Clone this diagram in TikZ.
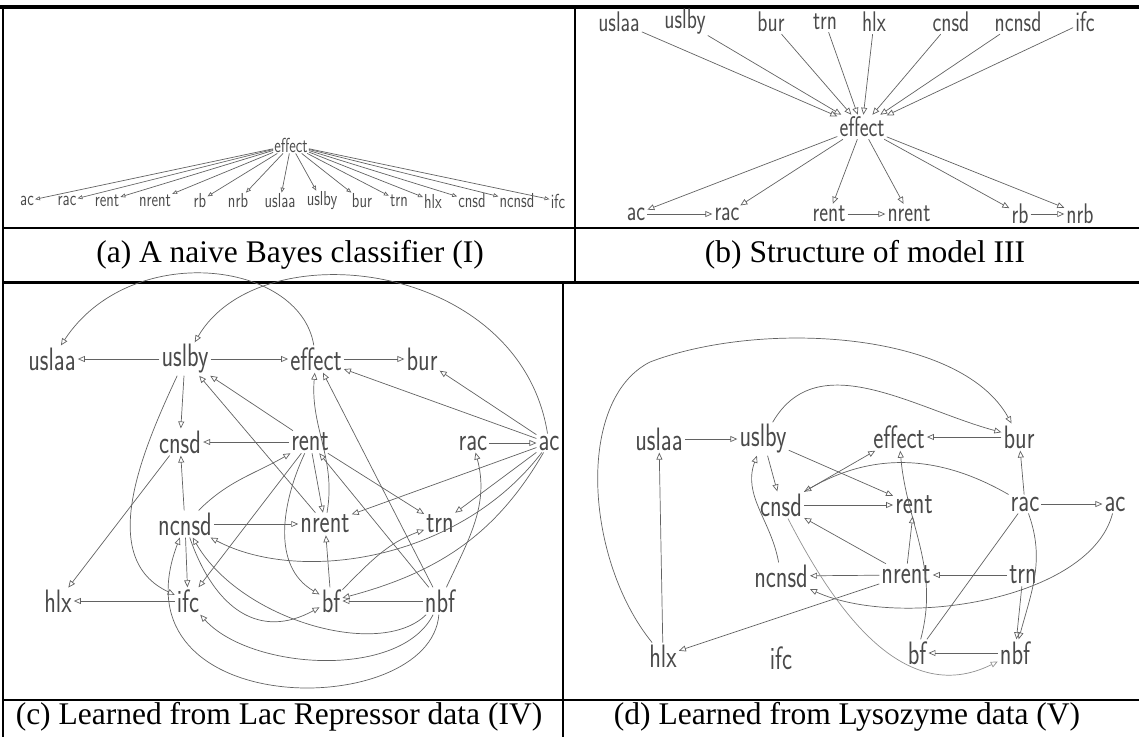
\documentclass[tikz,border=0pt]{standalone}
\usepackage{fontspec}
\setmainfont{Liberation Serif}
\usetikzlibrary{arrows.meta, positioning}

\definecolor{ink}{HTML}{4A4A4A}
\definecolor{pencil}{HTML}{626262}

% pencil lettering is tall and narrow
\newcommand{\hw}[1]{\scalebox{1}[1.35]{#1}}

\tikzset{
  hand/.style={font=\sffamily\fontsize{24}{24}\selectfont, text=ink, inner sep=2pt},
  handa/.style={hand, font=\sffamily\fontsize{15}{15}\selectfont, inner sep=1pt},
  handb/.style={hand, font=\sffamily\fontsize{21}{21}\selectfont},
  pen/.style={draw=pencil, line width=0.7pt},
  capt/.style={font=\fontsize{31.5}{33}\selectfont},
  boxline/.style={line width=1.5pt},
}

\begin{document}
\begin{tikzpicture}[x=1pt, y=-1pt, >={Triangle[open, length=7pt, width=6pt]},
    every edge/.style={pen}]
\useasboundingbox (0,0) rectangle (1139,737);

% table rules
\draw[line width=3.5pt] (0,7) -- (1139,7);
\draw[boxline] (3,7) -- (3,737);
\draw[boxline] (575,7) -- (575,282);
\draw[boxline] (563,282) -- (563,737);
\draw[boxline] (3,228) -- (1139,228);
\draw[line width=3pt] (3,282) -- (1139,282);
\draw[boxline] (3,700) -- (1139,700);

% captions
\node[capt] (capa) at (290,255) {(a) A naive Bayes classifier (I)};
\node[capt] (capb) at (865,255) {(b) Structure of model III};
\node[capt] (capc) at (279,717) {(c) Learned from Lac Repressor data (IV)};
\node[capt] (capd) at (847,717) {(d) Learned from Lysozyme data (V)};

% (a) naive Bayes
\begin{scope}[>={Triangle[open, length=5pt, width=4pt]}]
\node[handa] (a-effect) at (291,145) {\hw{effect}};
\node[handa] (a-ac) at (27,201) {\hw{ac}};
\node[handa] (a-rac) at (67,201) {\hw{rac}};
\node[handa] (a-rent) at (107,201) {\hw{rent}};
\node[handa] (a-nrent) at (155,201) {\hw{nrent}};
\node[handa] (a-rb) at (200,201) {\hw{rb}};
\node[handa] (a-nrb) at (238,201) {\hw{nrb}};
\node[handa] (a-uslaa) at (280,201) {\hw{uslaa}};
\node[handa] (a-uslby) at (322,201) {\hw{uslby}};
\node[handa] (a-bur) at (362,201) {\hw{bur}};
\node[handa] (a-trn) at (399,201) {\hw{trn}};
\node[handa] (a-hlx) at (433,201) {\hw{hlx}};
\node[handa] (a-cnsd) at (472,201) {\hw{cnsd}};
\node[handa] (a-ncnsd) at (517,201) {\hw{ncnsd}};
\node[handa] (a-ifc) at (558,201) {\hw{ifc}};

\draw
(a-effect) edge[->] (a-ac)
(a-effect) edge[->] (a-rac)
(a-effect) edge[->] (a-rent)
(a-effect) edge[->] (a-nrent)
(a-effect) edge[->] (a-rb)
(a-effect) edge[->] (a-nrb)
(a-effect) edge[->] (a-uslaa)
(a-effect) edge[->] (a-uslby)
(a-effect) edge[->] (a-bur)
(a-effect) edge[->] (a-trn)
(a-effect) edge[->] (a-hlx)
(a-effect) edge[->] (a-cnsd)
(a-effect) edge[->] (a-ncnsd)
(a-effect) edge[->] (a-ifc);
\end{scope}

% (b) model III
\node[handb] (b-uslaa) at (619,22) {\hw{uslaa}};
\node[handb] (b-uslby) at (685,22) {\hw{uslby}};
\node[handb] (b-bur) at (771,22) {\hw{bur}};
\node[handb] (b-trn) at (825,22) {\hw{trn}};
\node[handb] (b-hlx) at (874,22) {\hw{hlx}};
\node[handb] (b-cnsd) at (951,22) {\hw{cnsd}};
\node[handb] (b-ncnsd) at (1018,22) {\hw{ncnsd}};
\node[handb] (b-ifc) at (1085,22) {\hw{ifc}};
\node[handb] (b-effect) at (862,127) {\hw{effect}};
\node[handb] (b-ac) at (636,214) {\hw{ac}};
\node[handb] (b-rac) at (727,214) {\hw{rac}};
\node[handb] (b-rent) at (829,214) {\hw{rent}};
\node[handb] (b-nrent) at (909,214) {\hw{nrent}};
\node[handb] (b-rb) at (1020,214) {\hw{rb}};
\node[handb] (b-nrb) at (1080,214) {\hw{nrb}};

\draw
(b-uslaa) edge[->] (b-effect)
(b-uslby) edge[->] (b-effect)
(b-bur) edge[->] (b-effect)
(b-trn) edge[->] (b-effect)
(b-hlx) edge[->] (b-effect)
(b-cnsd) edge[->] (b-effect)
(b-ncnsd) edge[->] (b-effect)
(b-ifc) edge[->] (b-effect)
(b-effect) edge[->] (b-ac)
(b-effect) edge[->] (b-rac)
(b-effect) edge[->] (b-rent)
(b-effect) edge[->] (b-nrent)
(b-effect) edge[->] (b-rb)
(b-effect) edge[->] (b-nrb)
(b-ac) edge[->] (b-rac)
(b-rent) edge[->] (b-nrent)
(b-rb) edge[->] (b-nrb);

% (c) lac repressor
\node[hand] (c-uslaa) at (52,359) {\hw{uslaa}};
\node[hand] (c-uslby) at (185,359) {\hw{uslby}};
\node[hand] (c-effect) at (316,359) {\hw{effect}};
\node[hand] (c-bur) at (422,359) {\hw{bur}};
\node[hand] (c-cnsd) at (180,442) {\hw{cnsd}};
\node[hand] (c-rent) at (310,442) {\hw{rent}};
\node[hand] (c-rac) at (473,443) {\hw{rac}};
\node[hand] (c-ac) at (549,443) {\hw{ac}};
\node[hand] (c-ncnsd) at (185,524) {\hw{ncnsd}};
\node[hand] (c-nrent) at (325,524) {\hw{nrent}};
\node[hand] (c-trn) at (440,524) {\hw{trn}};
\node[hand] (c-hlx) at (58,601) {\hw{hlx}};
\node[hand] (c-ifc) at (188,601) {\hw{ifc}};
\node[hand] (c-bf) at (331,601) {\hw{bf}};
\node[hand] (c-nbf) at (440,601) {\hw{nbf}};

\draw
(c-uslby) edge[->] (c-uslaa)
(c-uslby) edge[->] (c-effect)
(c-effect) edge[->] (c-bur)
(c-uslby) edge[->] (c-cnsd)
(c-rent) edge[->] (c-cnsd)
(c-rent) edge[->] (c-uslby)
(c-nrent) edge[->] (c-uslby)
(c-ac) edge[->] (c-effect)
(c-ac) edge[->] (c-bur)
(c-rac) edge[->] (c-ac)
(c-rent) edge[->] (c-nrent)
(c-rent) edge[->] (c-trn)
(c-ac) edge[->] (c-nrent)
(c-ac) edge[->] (c-trn)
(c-nbf) edge[->] (c-bf)
(c-bf) edge[->] (c-nrent)
(c-ncnsd) edge[->] (c-nrent)
(c-ncnsd) edge[->] (c-cnsd)
(c-ncnsd) edge[->] (c-ifc)
(c-rent) edge[->] (c-ifc)
(c-cnsd) edge[->] (c-hlx)
(c-ifc) edge[->] (c-hlx)
(c-nbf) edge[->] (c-effect)
(c-nbf) edge[->] (c-rent)
(c-nrent) edge[->, out=80, in=-95] (c-effect)
(c-nbf) edge[->, out=65, in=-75] (c-rac)
(c-bf) edge[->, out=45, in=-160] (c-trn)
(c-ncnsd) edge[->, out=45, in=-150] (c-rent)
(c-rent) edge[->, out=-115, in=150] (c-bf)
(c-uslby) edge[->, out=-115, in=155] (c-ifc)
(c-ac) edge[->, out=-120, in=15] (c-bf);

\draw[pen, ->] (c-effect) .. controls (300,260) and (130,240) .. (c-uslaa);
\draw[pen, ->] (c-ac) .. controls (520,260) and (260,230) .. (c-uslby);
\draw[pen, ->] (c-ac) .. controls (460,560) and (300,585) .. (c-ncnsd);
\draw[pen, ->] (c-nbf) .. controls (430,722) and (110,722) .. (c-ncnsd);
\draw[pen, ->] (c-nbf) .. controls (400,680) and (250,670) .. (c-ifc);
\draw[pen, ->] (c-ncnsd) .. controls (215,610) and (260,640) .. (c-bf);
\draw[pen, ->] (c-nbf) .. controls (380,660) and (240,620) .. (c-ncnsd);

% (d) lysozyme
\node[hand] (d-uslaa) at (659,439) {\hw{uslaa}};
\node[hand] (d-uslby) at (763,439) {\hw{uslby}};
\node[hand] (d-effect) at (899,437) {\hw{effect}};
\node[hand] (d-bur) at (1019,437) {\hw{bur}};
\node[hand] (d-cnsd) at (781,505) {\hw{cnsd}};
\node[hand] (d-rent) at (914,505) {\hw{rent}};
\node[hand] (d-rac) at (1025,504) {\hw{rac}};
\node[hand] (d-ac) at (1115,504) {\hw{ac}};
\node[hand] (d-ncnsd) at (781,576) {\hw{ncnsd}};
\node[hand] (d-nrent) at (906,575) {\hw{nrent}};
\node[hand] (d-trn) at (1023,575) {\hw{trn}};
\node[hand] (d-hlx) at (663,656) {\hw{hlx}};
\node[hand] (d-ifc) at (781,658) {\hw{ifc}};
\node[hand] (d-bf) at (917,653) {\hw{bf}};
\node[hand] (d-nbf) at (1015,653) {\hw{nbf}};

\draw
(d-uslaa) edge[->] (d-uslby)
(d-bur) edge[->] (d-effect)
(d-uslby) edge[->] (d-rent)
(d-cnsd) edge[->] (d-effect)
(d-uslby) edge[->] (d-cnsd)
(d-hlx) edge[->] (d-uslaa)
(d-rac) edge[->] (d-bur)
(d-rac) edge[->] (d-ac)
(d-cnsd) edge[->] (d-rent)
(d-nrent) edge[->] (d-rent)
(d-nrent) edge[->] (d-cnsd)
(d-nrent) edge[->] (d-ncnsd)
(d-trn) edge[->] (d-nrent)
(d-trn) edge[->] (d-nbf)
(d-nrent) edge[->] (d-hlx)
(d-nbf) edge[->] (d-bf)
(d-rac) edge (d-bf)
(d-ncnsd) edge[->, out=100, in=-110] (d-uslby)
(d-bf) edge[->, out=75, in=-85] (d-effect)
(d-rac) edge[->, out=150, in=30] (d-cnsd)
(d-rac) edge[->, out=-70, in=75] (d-nbf)
(d-uslby) edge[->, out=60, in=165] (d-bur);

\draw[pen, ->] (d-hlx) .. controls (585,560) and (575,400) .. (650,362)
  .. controls (760,320) and (960,330) .. (d-bur);
\draw[pen, ->] (d-ac) .. controls (1090,600) and (900,630) .. (d-ncnsd);
\draw[pen, draw=pencil!70, ->] (d-cnsd) .. controls (830,600) and (900,710) .. (d-nbf);
\end{tikzpicture}
\end{document}
